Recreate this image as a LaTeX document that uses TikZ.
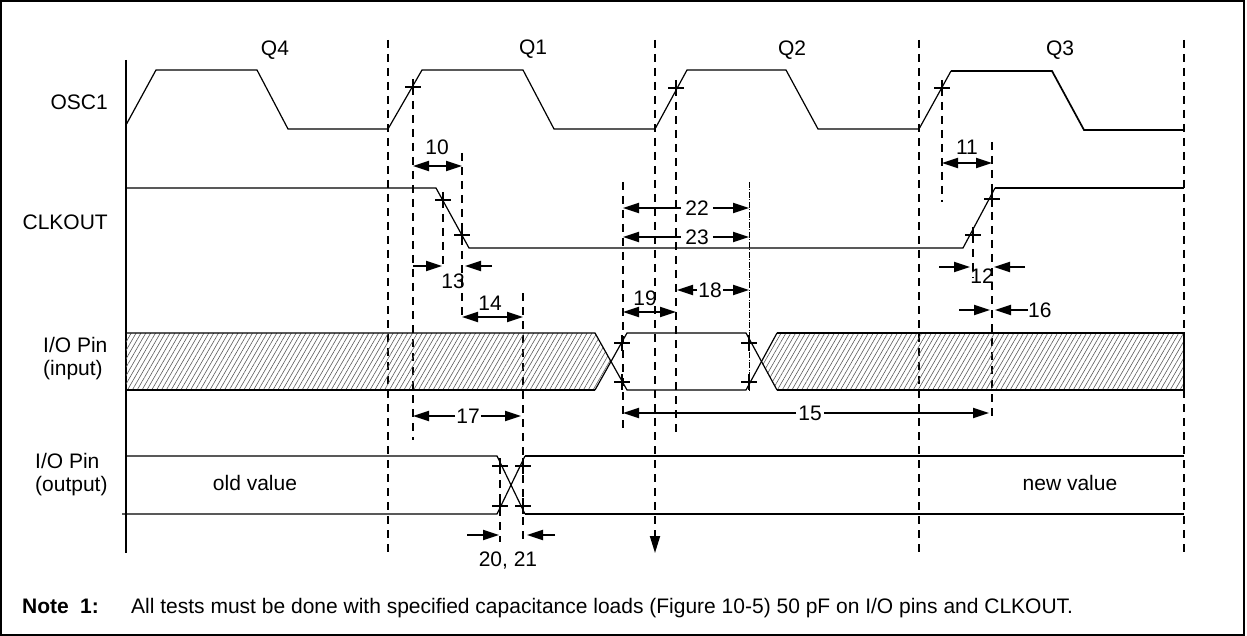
\documentclass[tikz,border=0pt]{standalone}
\usepackage{fontspec}
\setmainfont{Liberation Sans}
\usetikzlibrary{arrows.meta,patterns.meta}
\begin{document}
\begin{tikzpicture}[x=1pt,y=-1pt,
  font=\fontsize{21}{24}\selectfont,
  wave/.style={line width=1.2pt,line join=miter},
  heavywave/.style={line width=2.2pt},
  guide/.style={line width=1.8pt,dash pattern=on 8pt off 6pt},
  dashdotline/.style={line width=0.9pt,dash pattern=on 6pt off 1.5pt on 1pt off 1.5pt},
  tip/.style={line width=2pt,-{Triangle[length=16pt,width=10pt]}},
  both/.style={line width=2pt,{Triangle[length=16pt,width=10pt]}-{Triangle[length=16pt,width=10pt]}},
  num/.style={inner sep=2pt,text depth=0pt},
  hatch/.style={pattern={Lines[angle=60,distance=4.2pt,line width=0.6pt]},pattern color=black!65},
  xmark/.pic={\draw[line width=1.5pt] (-8,0) -- (8,0) (0,-8) -- (0,8);}
]
\useasboundingbox (0,0) rectangle (1247,636);
\draw[line width=2.4pt] (1.2,1.2) rectangle (1244,635);

% time axis
\draw[line width=2.2pt] (126,60) -- (126,553);

% quarter labels
\node (q4) at (275,50) {Q4};
\node (q1) at (533,49) {Q1};
\node (q2) at (792,50) {Q2};
\node (q3) at (1060,50) {Q3};

% signal labels
\node[anchor=east,inner sep=0pt] (losc) at (108,102) {OSC1};
\node[anchor=east,inner sep=0pt] (lclk) at (108,222) {CLKOUT};
\node[anchor=west,inner sep=0pt,align=left,font=\fontsize{21}{23}\selectfont] (lin) at (43,359) {I/O Pin\\(input)};
\node[anchor=west,inner sep=0pt,align=left,font=\fontsize{21}{23}\selectfont] (lout) at (35,475) {I/O Pin\\(output)};

% guide lines
\draw[guide] (388,40) -- (388,553);
\draw[guide,-{Triangle[length=17pt,width=10pt]}] (655,40) -- (655,553);
\draw[guide] (919,40) -- (919,553);
\draw[guide] (1184,40) -- (1184,553);
\draw[guide] (413,87) -- (413,440);
\draw[guide] (676,88) -- (676,433);
\draw[guide] (942,88) -- (942,202);
\draw[guide] (462,153) -- (462,320);
\draw[guide] (443,200) -- (443,268);
\draw[guide] (523,293) -- (523,540);
\draw[guide] (500,466) -- (500,542);
\draw[guide] (623,182) -- (623,430);
\draw[guide] (992,142) -- (992,420);
\draw[guide] (973,235) -- (973,278);
\draw[dashdotline] (749,182) -- (749,390);

% OSC1
\draw[wave] (126,125) -- (156,70) -- (257,70) -- (288,129) -- (388,129) -- (422,70) -- (523,70) -- (554,129) -- (655,129) -- (687,70) -- (786,70) -- (818,129) -- (919,129) -- (951,71);
\draw[line width=1.7pt] (951,71) -- (1052,71) -- (1084,130) -- (1184,130);
\pic at (413,87) {xmark};
\pic at (676,88) {xmark};
\pic at (942,88) {xmark};

% CLKOUT
\draw[wave] (126,188) -- (436,188) -- (469,248) -- (963,248) -- (995,188);
\draw[heavywave] (995,188) -- (1184,188);
\pic at (443,200) {xmark};
\pic at (462,235) {xmark};
\pic at (973,235) {xmark};
\pic at (992,199) {xmark};

% I/O Pin (input)
\fill[hatch] (126,333) -- (595,333) -- (611,361.5) -- (595,390) -- (126,390) -- cycle;
\fill[hatch] (761,361.5) -- (777,333) -- (1184,333) -- (1184,390) -- (777,390) -- cycle;
\draw[wave] (126,333) -- (595,333) -- (627,390) -- (746,390) -- (777,333);
\draw[wave] (595,390) -- (627,333) -- (746,333) -- (777,390);
\draw[heavywave] (126,390) -- (595,390);
\draw[heavywave] (777,333) -- (1184,333) -- (1184,390) -- (777,390);
\pic at (622,343) {xmark};
\pic at (622,382) {xmark};
\pic at (749,343) {xmark};
\pic at (749,382) {xmark};

% I/O Pin (output)
\draw[wave] (126,456) -- (497,456) -- (525,514);
\draw[wave] (122,514) -- (497,514) -- (525,456);
\draw[heavywave] (525,456) -- (1184,456);
\draw[heavywave] (525,514) -- (1184,514);
\pic at (500,466) {xmark};
\pic at (500,506) {xmark};
\pic at (523,466) {xmark};
\pic at (523,506) {xmark};
\node (old) at (255,483) {old value};
\node (new) at (1070,483) {new value};

% 10
\node[num] (l10) at (437,147) {10};
\draw[both] (413,166) -- (462,166);
% 11
\node[num] (l11) at (967,147) {11};
\draw[both] (942,163) -- (992,163);
% 14
\node[num] (l14) at (490,303) {14};
\draw[both] (462,317) -- (523,317);
% 19
\node[num] (l19) at (645,298) {19};
\draw[both] (623,312) -- (676,312);

% 22, 23
\node[num,inner sep=4pt] (l22) at (697,208) {22};
\draw[tip] (l22.west) -- (623,208);
\draw[tip] (l22.east) -- (749,208);
\node[num,inner sep=4pt] (l23) at (697,237) {23};
\draw[tip] (l23.west) -- (623,237);
\draw[tip] (l23.east) -- (749,237);
% 18
\node[num,inner sep=1pt] (l18) at (710,290) {18};
\draw[tip] (l18.west) -- (677,290);
\draw[tip] (l18.east) -- (749,290);
% 17
\node[num,inner sep=1pt] (l17) at (468,416) {17};
\draw[tip] (l17.west) -- (413,416);
\draw[tip] (l17.east) -- (521,416);
% 15
\node[num,inner sep=2pt] (l15) at (810,413) {15};
\draw[tip] (l15.west) -- (623,413);
\draw[tip] (l15.east) -- (989,413);

% 13
\node[num] (l13) at (453,281) {13};
\coordinate (a13) at (413,266);
\coordinate (b13) at (492,266);
\draw[tip] (a13) -- (442,266);
\draw[tip] (b13) -- (465,266);
% 12
\node[num] (l12) at (982,276) {12};
\coordinate (a12) at (939,267);
\coordinate (b12) at (1025,267);
\draw[tip] (a12) -- (970,267);
\draw[tip] (b12) -- (994,267);
% 16
\node[num,anchor=west,inner sep=0pt] (l16) at (1028,310) {16};
\coordinate (a16) at (959,310);
\draw[tip] (a16) -- (990,310);
\draw[tip] (l16.west) -- (995,310);
% 20, 21
\node[num] (l20) at (508,559) {20, 21};
\coordinate (a20) at (467,535);
\coordinate (b20) at (555,535);
\draw[tip] (a20) -- (499,535);
\draw[tip] (b20) -- (527,535);

% note
\node[anchor=base west,inner sep=0pt,font=\fontsize{21}{24}\selectfont\bfseries] (nlab) at (22,613) {Note};
\node[anchor=base west,inner sep=0pt,font=\fontsize{21}{24}\selectfont\bfseries] (nnum) at (80,613) {1:};
\node[anchor=base west,inner sep=0pt] (ntext) at (131,613) {All tests must be done with specified capacitance loads (Figure 10-5) 50 pF on I/O pins and CLKOUT.};
\end{tikzpicture}
\end{document}
